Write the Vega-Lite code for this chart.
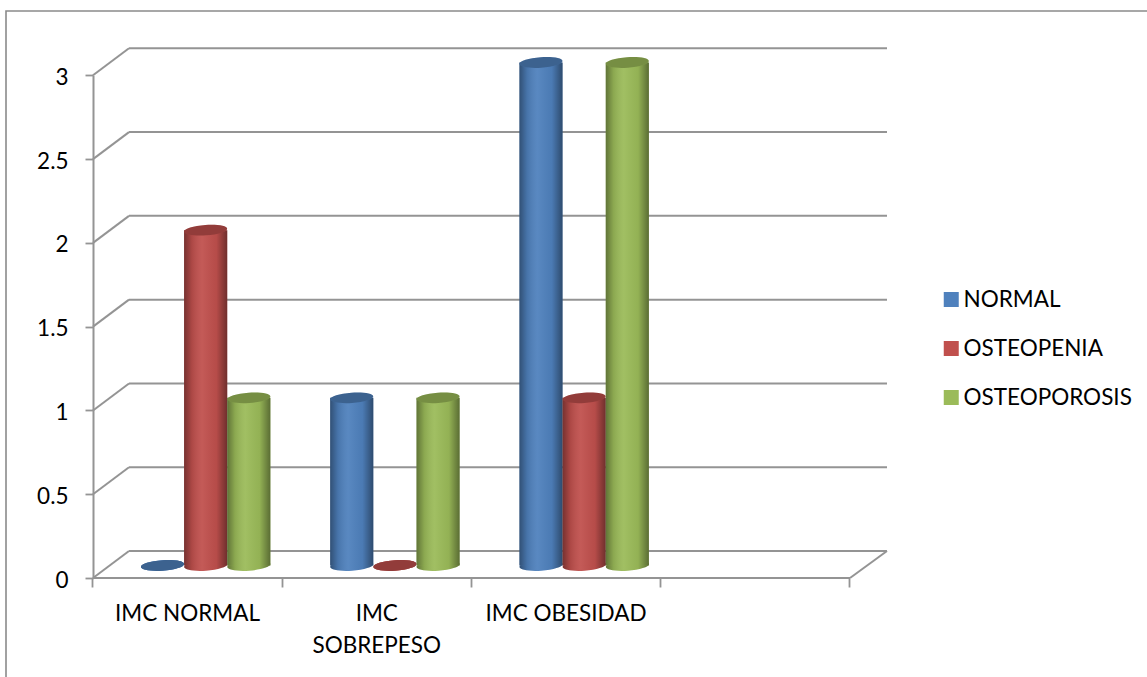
{
  "$schema": "https://vega.github.io/schema/vega-lite/v6.json",
  "autosize": "none",
  "padding": {"left": 6, "top": 11, "right": 0, "bottom": 0},
  "width": 1150,
  "height": 680,
  "background": "white",
  "view": {"stroke": "#8a8a8a", "strokeWidth": 1.6, "fill": "white"},
  "config": {"font": "Lato"},
  "datasets": {
    "marcas": [
      {"nivel": 0}, {"nivel": 0.5}, {"nivel": 1}, {"nivel": 1.5},
      {"nivel": 2}, {"nivel": 2.5}, {"nivel": 3}
    ],
    "barras": [
      {"imc": "IMC NORMAL", "serie": "NORMAL", "casos": 0},
      {"imc": "IMC NORMAL", "serie": "OSTEOPENIA", "casos": 2},
      {"imc": "IMC NORMAL", "serie": "OSTEOPOROSIS", "casos": 1},
      {"imc": "IMC SOBREPESO", "serie": "NORMAL", "casos": 1},
      {"imc": "IMC SOBREPESO", "serie": "OSTEOPENIA", "casos": 0},
      {"imc": "IMC SOBREPESO", "serie": "OSTEOPOROSIS", "casos": 1},
      {"imc": "IMC OBESIDAD", "serie": "NORMAL", "casos": 3},
      {"imc": "IMC OBESIDAD", "serie": "OSTEOPENIA", "casos": 1},
      {"imc": "IMC OBESIDAD", "serie": "OSTEOPOROSIS", "casos": 3}
    ]
  },
  "resolve": {"scale": {"x": "independent", "y": "independent"}},
  "layer": [
    {
      "description": "Walls and floor of the 3D box, with the value axis",
      "data": {"name": "marcas"},
      "encoding": {
        "y": {
          "field": "nivel",
          "type": "quantitative",
          "scale": {"domain": [0, 3], "range": [567, 64.3], "nice": false, "zero": false},
          "axis": {
            "orient": "left",
            "offset": -87,
            "values": [0, 0.5, 1, 1.5, 2, 2.5, 3],
            "format": "~g",
            "title": null,
            "grid": false,
            "domainColor": "#949494",
            "domainWidth": 2,
            "tickColor": "#949494",
            "tickWidth": 1.8,
            "tickSize": 8,
            "labelFontSize": 22.5,
            "labelColor": "#000000",
            "labelPadding": 17,
            "labelOffset": 2
          }
        }
      },
      "layer": [
        {
          "mark": {"type": "rule", "color": "#949494", "strokeWidth": 2, "xOffset": 36, "x2Offset": 37, "yOffset": -27, "y2Offset": -27},
          "encoding": {
            "x": {"datum": 0, "type": "quantitative", "scale": {"domain": [0, 4], "range": [87, 844], "nice": false}, "axis": null},
            "x2": {"datum": 4}
          }
        },
        {
          "mark": {"type": "rule", "color": "#949494", "strokeWidth": 2, "x2Offset": 36, "y2Offset": -27},
          "encoding": {
            "x": {"datum": 0, "type": "quantitative", "axis": null},
            "x2": {"datum": 0},
            "y2": {"field": "nivel"}
          }
        },
        {
          "transform": [{"filter": "datum.nivel === 0"}],
          "mark": {"type": "rule", "color": "#949494", "strokeWidth": 2, "x2Offset": 37, "y2Offset": -27},
          "encoding": {
            "x": {"datum": 4, "type": "quantitative", "axis": null},
            "x2": {"datum": 4},
            "y2": {"field": "nivel"}
          }
        },
        {
          "transform": [{"filter": "datum.nivel === 0"}],
          "mark": {"type": "rule", "color": "#949494", "strokeWidth": 2},
          "encoding": {
            "x": {"datum": 0, "type": "quantitative", "axis": null},
            "x2": {"datum": 4}
          }
        }
      ]
    },
    {
      "description": "Cylinders: a base ellipse, a shaded body and a darker cap for each value",
      "data": {"name": "barras"},
      "encoding": {
        "x": {
          "field": "imc",
          "type": "nominal",
          "scale": {
            "domain": ["IMC NORMAL", "IMC SOBREPESO", "IMC OBESIDAD", " "],
            "range": [86.4, 843.4],
            "paddingInner": 0,
            "paddingOuter": 0
          },
          "axis": {
            "orient": "bottom",
            "offset": -113,
            "title": null,
            "domain": false,
            "grid": false,
            "labelAngle": 0,
            "tickBand": "extent",
            "tickColor": "#949494",
            "tickWidth": 1.8,
            "tickSize": 9,
            "labelFontSize": 22.5,
            "labelColor": "#000000",
            "labelPadding": 15,
            "labelLineHeight": 32,
            "labelLimit": 0,
            "labelExpr": "datum.label === 'IMC SOBREPESO' ? ['IMC', 'SOBREPESO'] : datum.label"
          }
        },
        "xOffset": {
          "field": "serie",
          "type": "nominal",
          "scale": {"domain": ["NORMAL", "OSTEOPENIA", "OSTEOPOROSIS"], "range": [48.5, 178]}
        },
        "y": {
          "field": "casos",
          "type": "quantitative",
          "scale": {"domain": [0, 3], "range": [554.5, 51.5], "nice": false, "zero": false},
          "axis": null
        }
      },
      "layer": [
        {
          "mark": {"type": "point", "filled": true, "opacity": 1, "size": 1849, "shape": "M-1,0.07A1,0.24,-4,1,1,1,-0.07A1,0.24,-4,1,1,-1,0.07Z"},
          "encoding": {
            "y": {"datum": 0, "type": "quantitative"},
            "color": {
              "field": "serie",
              "type": "nominal",
              "scale": {"domain": ["NORMAL", "OSTEOPENIA", "OSTEOPOROSIS"], "range": ["#4F81BD", "#C0504D", "#9BBB59"]},
              "legend": {
                "title": null,
                "orient": "none",
                "legendX": 934,
                "legendY": 276,
                "symbolType": "square",
                "symbolSize": 225,
                "symbolStrokeWidth": 0,
                "symbolOpacity": 1,
                "labelFontSize": 22.5,
                "labelColor": "#000000",
                "labelOffset": 1,
                "labelLimit": 0,
                "rowPadding": 24,
                "clipHeight": 25
              }
            }
          }
        },
        {
          "mark": {"type": "point", "filled": false, "opacity": 1, "size": 1849, "shape": "M-1,0.07A1,0.24,-4,1,1,1,-0.07A1,0.24,-4,1,1,-1,0.07Z", "strokeWidth": 0, "fill": {"x1": 0, "y1": 0, "x2": 1, "y2": 0, "gradient": "linear", "stops": [{"offset": 0, "color": "rgba(0,0,0,0.38)"}, {"offset": 0.18, "color": "rgba(0,0,0,0.1)"}, {"offset": 0.42, "color": "rgba(255,255,255,0.06)"}, {"offset": 0.75, "color": "rgba(0,0,0,0.05)"}, {"offset": 1, "color": "rgba(0,0,0,0.42)"}]}},
          "encoding": {"y": {"datum": 0, "type": "quantitative"}}
        },
        {
          "mark": {"type": "bar"},
          "encoding": {
            "y2": {"datum": 0},
            "color": {"field": "serie", "type": "nominal"}
          }
        },
        {
          "mark": {"type": "bar", "fill": {"x1": 0, "y1": 0, "x2": 1, "y2": 0, "gradient": "linear", "stops": [{"offset": 0, "color": "rgba(0,0,0,0.38)"}, {"offset": 0.18, "color": "rgba(0,0,0,0.1)"}, {"offset": 0.42, "color": "rgba(255,255,255,0.06)"}, {"offset": 0.75, "color": "rgba(0,0,0,0.05)"}, {"offset": 1, "color": "rgba(0,0,0,0.42)"}]}},
          "encoding": {"y2": {"datum": 0}}
        },
        {
          "mark": {"type": "point", "filled": true, "opacity": 1, "size": 1849, "shape": "M-1,0.07A1,0.24,-4,1,1,1,-0.07A1,0.24,-4,1,1,-1,0.07Z"},
          "encoding": {"color": {"field": "serie", "type": "nominal"}}
        },
        {
          "mark": {"type": "point", "filled": true, "opacity": 0.24, "color": "#000000", "size": 1849, "shape": "M-1,0.07A1,0.24,-4,1,1,1,-0.07A1,0.24,-4,1,1,-1,0.07Z"}
        }
      ]
    }
  ]
}
